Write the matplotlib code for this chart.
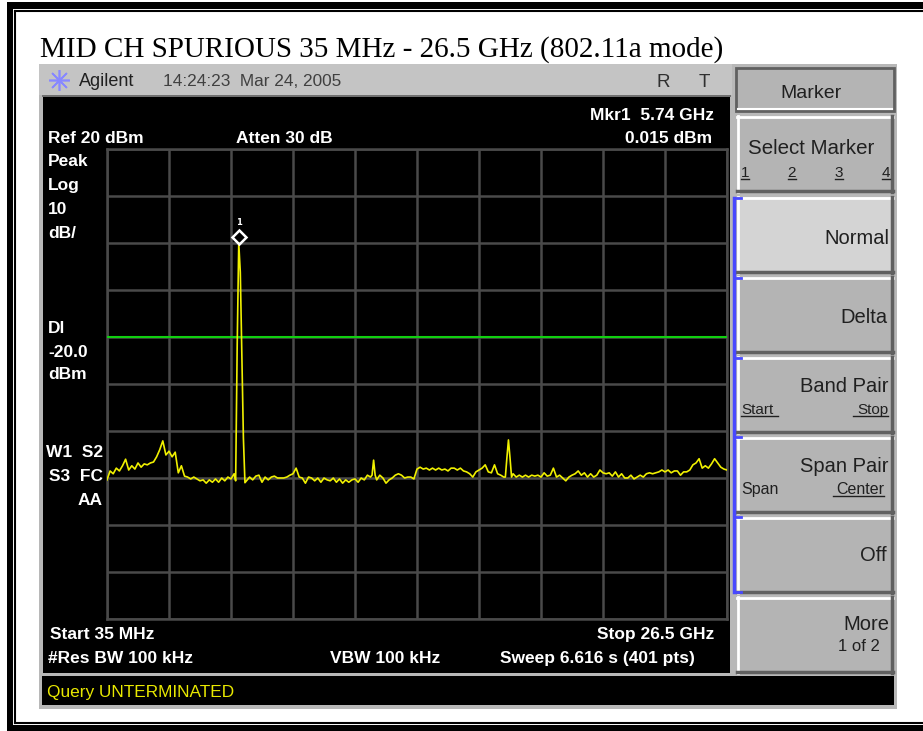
import numpy as np
import matplotlib.pyplot as plt
from matplotlib.patches import Rectangle

# sweep settings
start_ghz = 0.035
stop_ghz = 26.5
n_pts = 401
ref_dbm = 20
db_per_div = 10
display_line_dbm = -20.0

# trace: sweep point index -> level in dBm
sweep_pt = [0, 2, 4, 6, 8, 10, 12, 14, 16, 18, 20, 22, 24, 26, 28, 30, 32, 34, 36, 38,
            40, 42, 44, 46, 48, 50, 52, 54, 56, 58, 60, 62, 64, 66, 68, 70, 72, 74, 76, 78,
            80, 82, 83, 84, 85, 86, 87, 88, 89, 90, 92, 94, 96, 98, 100, 102, 104, 106, 108,
            110, 112, 114, 116, 118, 120, 122, 124, 126, 128, 130, 132, 134, 136, 138, 140,
            142, 144, 146, 148, 150, 152, 154, 156, 158, 160, 162, 164, 166, 168, 170, 171,
            172, 173, 174, 176, 178, 180, 182, 184, 186, 188, 190, 192, 194, 196, 198, 200,
            202, 204, 206, 208, 210, 212, 214, 216, 218, 220, 222, 224, 226, 228, 230, 232,
            234, 236, 238, 240, 242, 244, 246, 248, 250, 252, 254, 256, 257, 258, 259, 260,
            261, 262, 264, 266, 268, 270, 272, 274, 276, 278, 280, 282, 284, 286, 288, 290,
            292, 294, 296, 298, 300, 302, 304, 306, 308, 310, 312, 314, 316, 318, 320, 322,
            324, 326, 328, 330, 332, 334, 336, 338, 340, 342, 344, 346, 348, 350, 352, 354,
            356, 358, 360, 362, 364, 366, 368, 370, 372, 374, 376, 378, 380, 382, 384, 386,
            388, 390, 392, 394, 396, 398, 400]
level_dbm = [-50.4, -48.5, -49.1, -47.9, -48.5, -47.4, -46.0, -48.3, -47.4, -48.1,
             -46.8, -47.7, -47.0, -47.2, -46.8, -46.6, -45.5, -44.0, -42.1, -45.1,
             -44.3, -45.5, -44.5, -48.9, -47.4, -49.6, -49.8, -50.2, -49.8, -50.2,
             -50.6, -50.4, -51.1, -50.4, -50.9, -50.2, -50.9, -50.0, -50.6, -49.8,
             -50.2, -49.1, -50.6, -21.7, 0.015, -6.2, -23.4, -41.5, -51.0, -50.6,
             -49.8, -50.4, -49.6, -49.4, -50.9, -49.8, -50.4, -49.8, -49.6,
             -50.0, -50.0, -50.0, -49.8, -49.4, -49.1, -47.9, -49.8, -50.0, -51.1,
             -49.8, -50.0, -50.6, -50.0, -50.9, -50.0, -50.4, -50.6, -50.0, -50.9,
             -50.2, -51.1, -50.4, -50.9, -50.4, -50.2, -50.9, -50.0, -50.4, -49.4,
             -49.8, -49.4, -46.2, -49.4, -50.4, -49.4, -50.0, -51.1, -50.4, -50.0,
             -49.4, -49.1, -49.4, -50.0, -49.8, -49.8, -50.2, -48.1, -47.7, -48.1,
             -47.9, -48.3, -47.9, -48.3, -47.9, -48.3, -48.1, -48.5, -47.9, -47.9,
             -48.3, -47.9, -48.5, -48.7, -49.1, -49.8, -48.7, -48.3, -47.9, -47.2,
             -48.7, -48.9, -47.2, -49.1, -49.4, -49.8, -49.8, -45.7, -41.9, -45.7,
             -49.8, -49.1, -49.8, -49.4, -49.8, -49.4, -49.8, -49.4, -49.6, -49.4,
             -49.8, -48.9, -49.6, -49.4, -47.9, -49.8, -49.4, -50.0, -50.6, -49.8,
             -49.4, -49.1, -48.5, -49.4, -48.9, -49.8, -49.1, -49.8, -49.4, -48.3,
             -48.9, -49.1, -48.9, -49.6, -48.7, -49.8, -49.1, -50.0, -50.0, -49.4,
             -50.2, -49.8, -49.4, -49.8, -49.1, -48.9, -49.1, -48.9, -48.7, -48.3,
             -48.7, -48.3, -48.9, -48.5, -48.5, -49.4, -48.7, -48.7, -48.3, -47.2,
             -46.8, -45.9, -47.9, -47.4, -47.9, -47.0, -45.9, -46.8, -47.7, -48.1,
             -48.3]

left_labels = [("Peak", 166), ("Log", 190), ("10", 214), ("dB/", 238),
               ("Dl", 333), ("-20.0", 357), ("dBm", 379)]
softkeys = ["Select Marker", "Normal", "Delta", "Band Pair", "Span Pair", "Off", "More"]

freq = start_ghz + np.array(sweep_pt) * (stop_ghz - start_ghz) / (n_pts - 1)
level = np.array(level_dbm)

W, H = 923, 731
fig = plt.figure(figsize=(W / 100, H / 100), dpi=100)
fig.patch.set_facecolor("white")
bg = fig.add_axes([0, 0, 1, 1])
bg.set_xlim(0, W)
bg.set_ylim(H, 0)
bg.axis("off")


def box(x0, y0, x1, y1, fc, ec="none", lw=0, z=1):
    bg.add_patch(Rectangle((x0, y0), x1 - x0, y1 - y0, facecolor=fc,
                           edgecolor=ec, linewidth=lw, zorder=z))


def txt(x, y, s, size=12.5, color="white", ha="left", weight="bold", family="Liberation Sans", **kw):
    bg.text(x, y, s, fontsize=size, color=color, ha=ha, va="baseline",
            fontweight=weight, family=family, zorder=10, **kw)


# page frame (double line)
box(7, 2, 923, 9, "black")
box(7, 2, 13, 731, "black")
box(7, 725, 923, 731, "black")
bg.plot([15, 923], [11, 11], color="black", lw=1.5, zorder=2)
bg.plot([15, 15], [11, 723], color="black", lw=1.5, zorder=2)
bg.plot([15, 923], [723, 723], color="black", lw=1.5, zorder=2)

txt(40, 57, "MID CH SPURIOUS 35 MHz - 26.5 GHz (802.11a mode)", size=21,
    color="black", weight="normal", family="Liberation Serif")

# instrument body
box(39, 64, 897, 709, "#b8b8b8")
box(39, 64, 732, 95, "#c4c4c4")
box(42, 95, 731, 97, "#707070")
box(43, 97, 730, 673, "black")
box(42, 676, 894, 705, "black")

bg.plot([59], [80], marker=(8, 2, 0), ms=15, color="#8888ff", mew=1.2, zorder=10)
txt(79, 86, "Agilent", size=13, color="#202020", weight="normal")
txt(163, 86, "14:24:23  Mar 24, 2005", size=12.4, color="#404040", weight="normal")
txt(657, 87, "R", size=13.5, color="#303030", weight="normal")
txt(699, 87, "T", size=13.5, color="#303030", weight="normal")

# screen annotations
txt(48, 143, "Ref 20 dBm")
txt(236, 143, "Atten 30 dB")
txt(714, 120, "Mkr1  5.74 GHz", ha="right")
txt(712, 143, "0.015 dBm", ha="right")
for s, yb in left_labels:
    txt(48, yb, s)
txt(103, 457, "W1  S2", ha="right")
txt(103, 481, "S3  FC", ha="right")
txt(103, 505, "AA", ha="right")
txt(50, 639, "Start 35 MHz")
txt(714, 639, "Stop 26.5 GHz", ha="right")
txt(48, 663, "#Res BW 100 kHz")
txt(330, 663, "VBW 100 kHz")
txt(500, 663, "Sweep 6.616 s (401 pts)")
txt(47, 697, "Query UNTERMINATED", size=12.4, color="#e8e800", weight="normal")

# softkey panel
def key(y0, y1, fc="#b4b4b4"):
    box(737, y0, 893, y1, fc, z=2)
    bg.plot([737, 893], [y0 + 1, y0 + 1], color="white", lw=2, zorder=3)
    bg.plot([738, 738], [y0, y1], color="white", lw=2, zorder=3)
    bg.plot([737, 893], [y1 - 1, y1 - 1], color="#606060", lw=2.5, zorder=3)
    bg.plot([892, 892], [y0, y1], color="#606060", lw=2.5, zorder=3)


box(736, 68, 894, 111, "#b4b4b4", ec="#606060", lw=2, z=2)
bg.plot([738, 892], [109, 109], color="white", lw=1.5, zorder=3)
txt(811, 98, "Marker", size=14, color="#202020", ha="center", weight="normal")

tops = [116, 197, 277, 357, 437, 517, 597]
for i, t in enumerate(tops):
    key(t, t + 76, "#d4d4d4" if softkeys[i] == "Normal" else "#b4b4b4")

kc = "#202020"
txt(811, 154, softkeys[0], size=14.8, color=kc, ha="center", weight="normal")
for n, xx in zip("1234", [745, 792, 839, 886]):
    txt(xx, 177, n, size=11, color=kc, ha="center", weight="normal")
    bg.plot([xx - 4, xx + 4], [179, 179], color=kc, lw=1, zorder=10)
txt(889, 244, softkeys[1], size=14.5, color=kc, ha="right", weight="normal")
txt(887, 323, softkeys[2], size=14.5, color=kc, ha="right", weight="normal")
txt(888, 392, softkeys[3], size=14.5, color=kc, ha="right", weight="normal")
txt(741, 414, "Start", size=11, color=kc, weight="normal")
txt(888, 414, "Stop", size=11, color=kc, ha="right", weight="normal")
bg.plot([741, 778], [416, 416], color=kc, lw=1, zorder=10)
bg.plot([853, 888], [416, 416], color=kc, lw=1, zorder=10)
txt(888, 472, softkeys[4], size=14.5, color=kc, ha="right", weight="normal")
txt(741, 494, "Span", size=11.5, color=kc, weight="normal")
txt(884, 494, "Center", size=11.5, color=kc, ha="right", weight="normal")
bg.plot([833, 884], [496, 496], color=kc, lw=1, zorder=10)
txt(887, 561, softkeys[5], size=14.5, color=kc, ha="right", weight="normal")
txt(889, 630, softkeys[6], size=14.5, color=kc, ha="right", weight="normal")
txt(880, 651, "1 of 2", size=12, color=kc, ha="right", weight="normal")

# blue bracket for the active key group
bg.plot([734, 734], [198, 592], color="#4848ff", lw=2.5, zorder=4)
for yy in [198, 278, 358, 437, 517, 592]:
    bg.plot([734, 741], [yy, yy], color="#4848ff", lw=2, zorder=4)

# trace window
ax = fig.add_axes([107 / W, 1 - 619 / H, 620 / W, 470 / H])
ax.set_facecolor("black")
ax.set_xlim(start_ghz, stop_ghz)
ax.set_ylim(ref_dbm - 10 * db_per_div, ref_dbm)
ax.set_xticks(np.linspace(start_ghz, stop_ghz, 11))
ax.set_yticks(np.arange(ref_dbm - 10 * db_per_div, ref_dbm + 1, db_per_div))
ax.grid(True, color="#4a4a4a", lw=1.8)
ax.tick_params(length=0, labelbottom=False, labelleft=False)
for sp in ax.spines.values():
    sp.set_color("#4a4a4a")
    sp.set_linewidth(1.8)

ax.axhline(display_line_dbm, color="#10d010", lw=1.5, zorder=3)
ax.plot(freq, level, color="#f0f000", lw=1.2, zorder=4)

pk = np.argmax(level)
ax.plot(freq[pk], level[pk] + 1.3, marker="D", ms=7, mfc="none", mec="white", mew=1.8, zorder=5)
ax.text(freq[pk], level[pk] + 3.4, "1", color="white", fontsize=6, ha="center",
        va="bottom", fontweight="bold", zorder=5)

plt.savefig("out.png", dpi=100)
plt.close()
